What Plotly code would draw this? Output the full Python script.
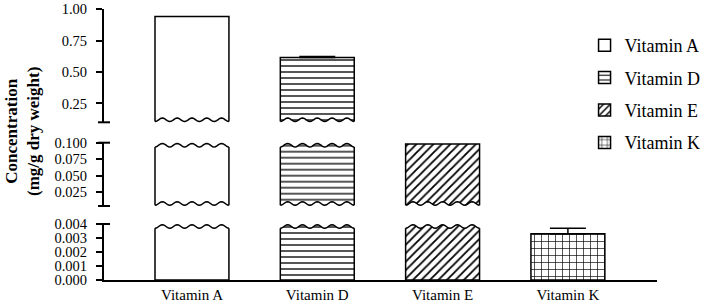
import math
import plotly.graph_objects as go

# ---------------- data ----------------
categories = ["Vitamin A", "Vitamin D", "Vitamin E", "Vitamin K"]
values = [0.941, 0.615, 0.098, 0.0033]
errors = [0.0, 0.008, 0.0, 0.0004]
patterns = ["", "-", "/", "+"]
pattern_sizes = [6, 6, 6, 7]
pattern_solidity = [0.2, 0.22, 0.3, 0.18]

# broken y axis: three panels (bottom, middle, top)
panel_ranges = [[0.0, 0.004], [0.004, 0.1], [0.1, 1.0]]
panel_ticks = [[0.000, 0.001, 0.002, 0.003, 0.004],
               [0.025, 0.050, 0.075, 0.100],
               [0.25, 0.50, 0.75, 1.00]]
panel_formats = [".3f", ".3f", ".2f"]

# ---------------- layout constants ----------------
W, H = 709, 305
ML, MR, MT, MB = 104, 52, 9, 25
PH = H - MT - MB
PW = W - ML - MR
positions = [0, 1, 2, 3]
BAR_W = 0.59
XRANGE = [-0.702, 3.711]
FONT = "Liberation Serif, Times New Roman, serif"

def px_to_paper(py):
    return (H - MB - py) / PH

def paper_to_px(p):
    return H - MB - p * PH

# panel pixel extents (bottom px, top px) -> paper domains
panel_px = [(280, 224), (206, 142.7), (122.3, MT)]
panel_domains = [[px_to_paper(b), px_to_paper(t)] for b, t in panel_px]

yaxis_names = ["y3", "y2", "y"]  # bottom, middle, top

fig = go.Figure()

for i, cat in enumerate(categories):
    shown = False
    for p in (2, 1, 0):
        lo, hi = panel_ranges[p]
        v = values[i]
        if v <= lo:
            continue  # bar does not reach this panel
        kw = {}
        if errors[i] > 0 and lo <= v <= hi:
            kw["error_y"] = dict(type="data", symmetric=False, array=[errors[i]],
                                 arrayminus=[0], color="black", thickness=1.5, width=18)
        fig.add_trace(go.Bar(
            x=[positions[i]], y=[v], width=BAR_W,
            name=cat, legendgroup=cat, showlegend=not shown, legendrank=i + 1,
            yaxis=yaxis_names[p], xaxis="x",
            marker=dict(color="white",
                        line=dict(color="black", width=1.5),
                        pattern=dict(shape=patterns[i], fgcolor="black", bgcolor="white",
                                     size=pattern_sizes[i], solidity=pattern_solidity[i])),
            **kw))
        shown = True

# ---------------- wavy break edges ----------------
shapes = []
N_PER = 5
AMP = 1.8

def wave_points(xc, center_px, n=60):
    pts = []
    for k in range(n + 1):
        t = k / n
        x = xc - BAR_W / 2 + BAR_W * t
        y = center_px + AMP * math.cos(2 * math.pi * N_PER * t)
        pts.append((x, px_to_paper(y)))
    return pts

def add_wave(xc, edge_px, side):
    if side == "top":
        center = edge_px + 2.5
        outer = edge_px - 4
    else:
        center = edge_px - 2.5
        outer = edge_px + 4
    pts = wave_points(xc, center)
    dx = 0.02
    fill = "M{},{} ".format(pts[0][0] - dx, pts[0][1])
    fill += " ".join("L{},{}".format(x, y) for x, y in pts)
    fill += " L{},{}".format(pts[-1][0] + dx, pts[-1][1])
    fill += " L{},{} L{},{} Z".format(pts[-1][0] + dx, px_to_paper(outer),
                                      pts[0][0] - dx, px_to_paper(outer))
    shapes.append(dict(type="path", xref="x", yref="paper", path=fill,
                       fillcolor="white", line=dict(width=0), layer="above"))
    line = "M{},{} ".format(*pts[0]) + " ".join("L{},{}".format(x, y) for x, y in pts[1:])
    shapes.append(dict(type="path", xref="x", yref="paper", path=line,
                       line=dict(color="black", width=1.5), layer="above"))

for p, (lo, hi) in enumerate(panel_ranges):
    top_px = paper_to_px(panel_domains[p][1])
    bot_px = paper_to_px(panel_domains[p][0])
    for i, v in enumerate(values):
        if v > hi:
            add_wave(positions[i], top_px, "top")
        if lo > 0 and v > lo:
            add_wave(positions[i], bot_px, "bottom")

# caps at the broken ends of the y axis
cap_edges = [panel_domains[2][0], panel_domains[1][1], panel_domains[1][0], panel_domains[0][1]]
for e in cap_edges:
    shapes.append(dict(type="line", xref="paper", yref="paper", xsizemode="pixel",
                       xanchor=0, x0=-6, x1=6, y0=e, y1=e,
                       line=dict(color="black", width=2)))

# ---------------- axes ----------------
def yaxis(p):
    lo, hi = panel_ranges[p]
    pad = (hi - lo) * 0.0008  # keep the end tick inside the range
    return dict(domain=panel_domains[p], range=[lo, hi + pad], anchor="x",
                tickvals=panel_ticks[p], tickformat=panel_formats[p],
                showline=True, linecolor="black", linewidth=2,
                ticks="outside", ticklen=6, tickwidth=1.5, tickcolor="black",
                ticklabelstandoff=6, ticklabeloverflow="allow", automargin=False,
                showgrid=False, zeroline=False,
                tickfont=dict(family=FONT, size=14.5, color="black"))

fig.update_layout(
    template="none",
    width=W, height=H,
    margin=dict(l=ML, r=MR, t=MT, b=MB, autoexpand=False),
    paper_bgcolor="white", plot_bgcolor="white",
    barmode="overlay",
    font=dict(family=FONT, color="black"),
    xaxis=dict(anchor="y3", range=XRANGE, tickvals=positions, ticktext=categories,
               showline=True, linecolor="black", linewidth=2, ticks="",
               showgrid=False, zeroline=False, automargin=False,
               tickfont=dict(family=FONT, size=15, color="black")),
    yaxis3=yaxis(0), yaxis2=yaxis(1), yaxis=yaxis(2),
    showlegend=True,
    legend=dict(x=0.869, y=px_to_paper(27), xanchor="left", yanchor="top",
                font=dict(family=FONT, size=18, color="black"),
                traceorder="grouped", tracegroupgap=6, bgcolor="rgba(0,0,0,0)"),
    shapes=shapes,
    annotations=[dict(text="<b>Concentration</b><br><b>(mg/g dry weight)</b>",
                      xref="paper", yref="paper", x=(22 - ML) / PW, y=px_to_paper(132),
                      xanchor="center", yanchor="middle", textangle=-90, showarrow=False,
                      font=dict(family=FONT, size=17, color="black"))],
)

fig.write_html("out.html",
               config={"displayModeBar": False},
               post_script="document.body.style.margin='0';document.body.style.overflow='hidden';")
